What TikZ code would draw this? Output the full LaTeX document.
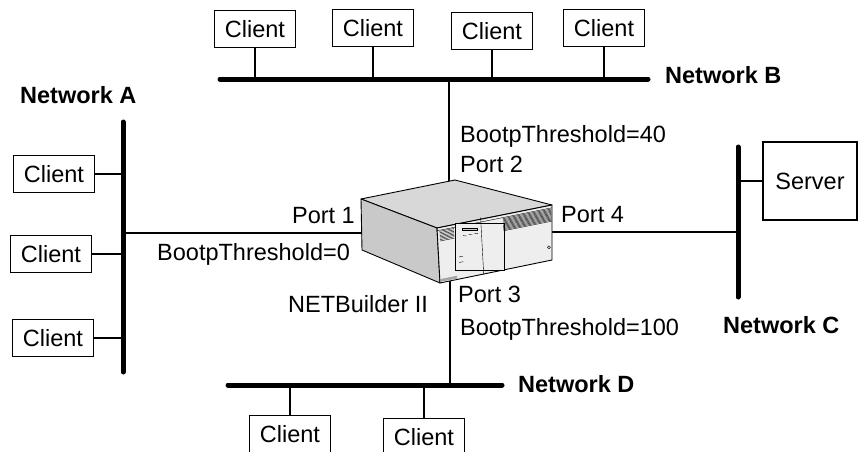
\documentclass[tikz,border=0pt]{standalone}
\usepackage{fontspec}
\setmainfont{Liberation Sans}
\usepackage{xcolor}
\usepackage{tikz}
\usetikzlibrary{calc}
\definecolor{topface}{HTML}{D8D8D8}
\definecolor{sideface}{HTML}{C9C9C9}
\definecolor{frontface}{HTML}{EEEEEE}
\tikzset{
  txt/.style={font=\fontsize{23.5}{26}\selectfont, inner sep=0pt},
  netlab/.style={font=\fontsize{23.5}{26}\selectfont\bfseries, inner sep=0pt},
  host/.style={txt, draw, line width=1.2pt, minimum width=81pt, minimum height=37pt, fill=white},
  bus/.style={line width=5pt, line cap=round},
  link/.style={line width=1.8pt},
  edge/.style={draw=black, line width=0.9pt, line join=round},
  fine/.style={line width=0.4pt},
}

\begin{document}
\begin{tikzpicture}[x=1pt,y=-1pt]
  \useasboundingbox (0,0) rectangle (859,452);
  \clip (0,0) rectangle (859,452);

  % the four segments
  \coordinate (busA-n) at (123,122);  \coordinate (busA-s) at (123,372);
  \coordinate (busB-w) at (220,79);   \coordinate (busB-e) at (648,79);
  \coordinate (busC-n) at (738,147);  \coordinate (busC-s) at (738,297);
  \coordinate (busD-w) at (228,385);  \coordinate (busD-e) at (502,385);
  \draw[bus] (busA-n) -- (busA-s);
  \draw[bus] (busB-w) -- (busB-e);
  \draw[bus] (busC-n) -- (busC-s);
  \draw[bus] (busD-w) -- (busD-e);

  \node[netlab,anchor=base west] (netA) at (20,103) {Network A};
  \node[netlab,anchor=base west] (netB) at (665,83) {Network B};
  \node[netlab,anchor=base west] (netC) at (723,333) {Network C};
  \node[netlab,anchor=base west] (netD) at (518,392) {Network D};

  % hosts
  \node[host] (ctop1) at (255,29) {Client};
  \node[host] (ctop2) at (373,28) {Client};
  \node[host] (ctop3) at (492,31) {Client};
  \node[host] (ctop4) at (604,28) {Client};
  \foreach \c in {ctop1,ctop2,ctop3,ctop4}
    \draw[link] (\c.south) -- (\c.south |- busB-w);

  \node[host] (cleft1) at (54,174) {Client};
  \node[host] (cleft2) at (51,254) {Client};
  \node[host] (cleft3) at (53,338) {Client};
  \foreach \c in {cleft1,cleft2,cleft3}
    \draw[link] (\c.east) -- (\c.east -| busA-n);

  \node[host] (cbot1) at (290,434) {Client};
  \node[host] (cbot2) at (424,437) {Client};
  \foreach \c in {cbot1,cbot2}
    \draw[link] (\c.north) -- (\c.north |- busD-w);

  \node[host,minimum width=94pt,minimum height=78pt] (server) at (810,181) {Server};
  \draw[link] (server.west) -- (server.west -| busC-n);

  % NETBuilder II chassis
  \coordinate (nb-l) at (361,199);  \coordinate (nb-k) at (455,180);
  \coordinate (nb-r) at (552,205);  \coordinate (nb-f) at (437,228);
  \coordinate (nb-lb) at (362,250); \coordinate (nb-fb) at (440,283);
  \coordinate (nb-rb) at (552,260);
  \coordinate (nb-p1) at (361,233); \coordinate (nb-p2) at (449,181);
  \coordinate (nb-p3) at (450,281); \coordinate (nb-p4) at (552,232);

  \draw[link] (busA-n |- nb-p1) -- (nb-p1);
  \draw[link] (nb-p2) -- (nb-p2 |- busB-w);
  \draw[link] (nb-p3) -- (nb-p3 |- busD-w);
  \draw[link] (nb-p4) -- (nb-p4 -| busC-n);

  \filldraw[edge,fill=topface] (nb-l) -- (nb-k) -- (nb-r) -- (nb-f) -- cycle;
  \filldraw[edge,fill=sideface] (nb-l) -- (nb-f) -- (nb-fb) -- (nb-lb) -- cycle;
  \filldraw[edge,fill=frontface] (nb-f) -- (nb-r) -- (nb-rb) -- (nb-fb) -- cycle;

  \begin{scope}[shift={(437,228)}, x={(115pt,23pt)}, y={(3pt,-55pt)}]
    \draw[fine] (0,0.05) -- (1,0.05);
    \filldraw[fine,fill=frontface] (0.157,-0.03) rectangle (0.56,1);
    \draw[fine] (0.38,-0.03) -- (0.38,1);
    \foreach \v in {0.07,0.095,...,0.25}
      \draw[fine] (0.02,\v) -- (0.145,\v);
    \foreach \v in {0.07,0.09,...,0.29}
      \draw[fine] (0.57,\v) -- (0.99,\v);
    \draw[fine,fill=gray!45] (0.215,0.1) rectangle (0.345,0.19);
    \foreach \u in {0.22,0.27,0.32}
      \draw[fine] (\u,0.23) -- (\u+0.03,0.25);
    \draw[fine] (0.175,0.6) -- (0.21,0.6);
    \draw[fine] (0.175,0.7) -- (0.21,0.7);
    \fill[gray!70] (0.01,0.93) -- (0.15,0.93) -- (0.15,0.98) -- (0.01,0.98) -- cycle;
    \draw[fine] (0.954,0.75) circle (1.5pt);
  \end{scope}

  % port labels
  \node[txt,anchor=base west] (thr2) at (460,142) {BootpThreshold=40};
  \node[txt,anchor=base west] (port2) at (460,172) {Port 2};
  \node[txt,anchor=base east] (port1) at (355,223) {Port 1};
  \node[txt,anchor=base west] (thr1) at (157,260) {BootpThreshold=0};
  \node[txt,anchor=base west] (port4) at (561,222) {Port 4};
  \node[txt,anchor=base west] (port3) at (458,302) {Port 3};
  \node[txt,anchor=base west] (nbname) at (288,312) {NETBuilder II};
  \node[txt,anchor=base west] (thr3) at (460,335) {BootpThreshold=100};
\end{tikzpicture}
\end{document}
